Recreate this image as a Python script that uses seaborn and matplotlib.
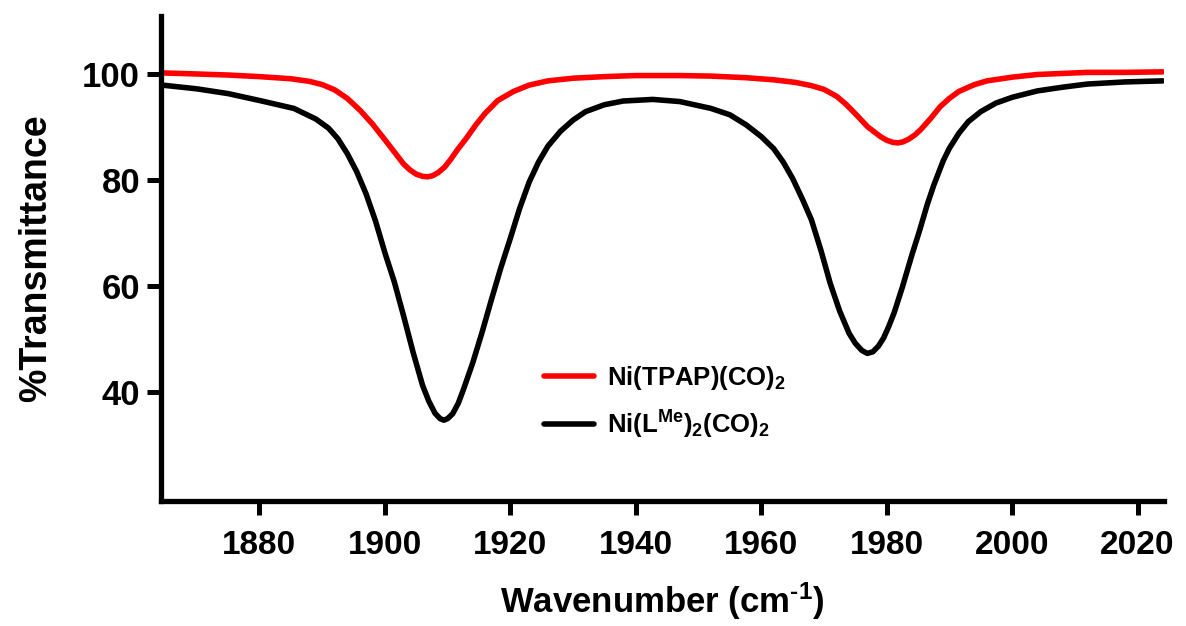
import numpy as np
import pandas as pd
import matplotlib
matplotlib.use("Agg")
import matplotlib.pyplot as plt
import seaborn as sns

# ---- data ----
red_x = [1864.5, 1870, 1875, 1880, 1885, 1888, 1890, 1892, 1894, 1896, 1898, 1900,
         1901.5, 1903, 1904, 1905, 1906, 1906.8, 1907.6, 1908.5, 1909.5, 1910.5, 1911.5,
         1913, 1914.5, 1916, 1918, 1920.5, 1923, 1926, 1930, 1935, 1940, 1947, 1952,
         1957.5, 1962, 1965.5, 1968, 1970, 1972, 1973.5, 1975, 1977, 1979, 1980,
         1981, 1981.8, 1982.6, 1983.5, 1984.5, 1985.5, 1987, 1988.5, 1990, 1991.5,
         1994, 1996, 2000, 2004, 2008, 2012, 2018, 2024]
red_y = [100.2, 100.0, 99.8, 99.5, 99.1, 98.6, 98.0, 97.0, 95.4, 93.2, 90.6, 87.6,
         85.3, 83.0, 81.9, 81.1, 80.7, 80.6, 80.8, 81.4, 82.4, 83.9, 85.6,
         87.9, 90.4, 92.6, 95.0, 96.7, 97.9, 98.7, 99.2, 99.5, 99.7, 99.7, 99.6,
         99.3, 98.9, 98.4, 97.8, 97.1, 95.8, 94.3, 92.5, 90.0, 88.2, 87.5,
         87.1, 87.0, 87.2, 87.7, 88.5, 89.6, 91.6, 93.8, 95.4, 96.7,
         98.0, 98.7, 99.4, 99.9, 100.1, 100.3, 100.3, 100.4]

black_x = [1864.5, 1870, 1875, 1880, 1885.5, 1889, 1891, 1892.5, 1894, 1895.5, 1897,
           1898.5, 1900, 1901.5, 1903, 1904.5, 1906, 1907, 1908, 1908.8, 1909.4, 1910,
           1910.8, 1911.7, 1912.5, 1914, 1915.5, 1917, 1918.5, 1920, 1921.5, 1923,
           1924.5, 1926, 1928, 1930, 1932, 1935, 1938, 1942.7, 1947, 1952, 1955,
           1957.6, 1960, 1962, 1963.5, 1965, 1966.6, 1968, 1969.5, 1971, 1972.5, 1974,
           1975, 1976, 1976.9, 1977.8, 1978.7, 1979.5, 1980.3, 1981.2, 1982.5, 1984,
           1985.2, 1986.5, 1987.5, 1989, 1990, 1991.5, 1993, 1995, 1997.4, 2000, 2004,
           2008, 2012, 2018, 2024]
black_y = [97.9, 97.2, 96.3, 95.0, 93.5, 91.5, 89.8, 87.8, 85.0, 81.6, 77.4,
           72.3, 66.3, 60.8, 54.3, 47.5, 41.3, 38.3, 36.0, 35.0, 34.7, 35.0,
           35.9, 37.9, 40.4, 45.5, 51.3, 57.5, 63.5, 69.0, 74.7, 79.6,
           83.4, 86.4, 89.2, 91.3, 92.9, 94.2, 94.9, 95.2, 94.8, 93.5, 92.3,
           90.4, 88.2, 85.9, 83.4, 80.3, 76.3, 72.5, 66.8, 60.5, 55.3, 51.1,
           49.2, 47.9, 47.3, 47.6, 48.7, 50.2, 52.3, 55.0, 59.8, 65.8,
           70.3, 75.5, 79.0, 83.6, 86.0, 88.8, 91.0, 92.9, 94.5, 95.6, 96.8,
           97.5, 98.1, 98.5, 98.7]

labels = [r"$\mathbf{Ni(TPAP)(CO)_2}$", r"$\mathbf{Ni(L^{Me})_2(CO)_2}$"]
colors = ["#ff0000", "#000000"]
x_ticks = [1880, 1900, 1920, 1940, 1960, 1980, 2000, 2020]
y_ticks = [40, 60, 80, 100]

sns.set_theme(style="ticks")
plt.rcParams["font.family"] = ["Liberation Sans", "DejaVu Sans"]
plt.rcParams["font.weight"] = "bold"
plt.rcParams["mathtext.fontset"] = "custom"
plt.rcParams["mathtext.bf"] = "Liberation Sans:bold"
plt.rcParams["mathtext.rm"] = "Liberation Sans:bold"
plt.rcParams["mathtext.default"] = "bf"
for k in ["text.color", "axes.labelcolor", "xtick.color", "ytick.color",
          "xtick.labelcolor", "ytick.labelcolor"]:
    plt.rcParams[k] = "black"

df = pd.concat([
    pd.DataFrame({"x": red_x, "y": red_y, "s": labels[0]}),
    pd.DataFrame({"x": black_x, "y": black_y, "s": labels[1]}),
])

fig = plt.figure(figsize=(11.86, 6.26), dpi=100)
ax = fig.add_axes([0.1357, 0.2, 0.8457, 0.775])
sns.lineplot(data=df, x="x", y="y", hue="s", palette=colors, sort=False,
             estimator=None, linewidth=4.0, ax=ax)

ax.set_xlim(1864.3, 2024.2)
ax.set_ylim(19.5, 111)
ax.set_xticks(x_ticks)
ax.set_yticks(y_ticks)
ax.tick_params(axis="both", direction="out", length=10, width=3.6, color="black")
ax.tick_params(axis="x", labelsize=24, pad=11)
ax.tick_params(axis="y", labelsize=25, pad=5)
for lab in ax.get_xticklabels() + ax.get_yticklabels():
    lab.set_fontweight("bold")
sns.despine(ax=ax)
for sp in ["left", "bottom"]:
    ax.spines[sp].set_linewidth(3.8)
    ax.spines[sp].set_color("black")

ax.set_xlabel(r"Wavenumber (cm$^{\text{-1}}$)", fontsize=25, fontweight="bold", labelpad=14)
ax.set_ylabel("%Transmittance", fontsize=27, fontweight="bold", labelpad=20)

leg = ax.legend(loc="center left", bbox_to_anchor=(0.372, 0.203), frameon=False,
                fontsize=18.5, handlelength=1.95, handletextpad=0.5, labelspacing=0.65,
                borderaxespad=0)
for h in leg.get_lines():
    h.set_linewidth(4.0)

fig.savefig("out.png", dpi=100)
